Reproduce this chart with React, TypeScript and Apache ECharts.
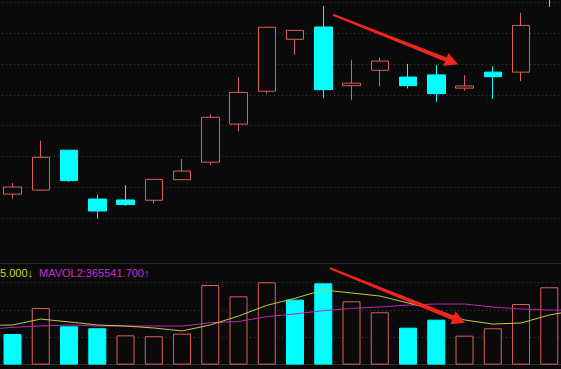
import { useEffect, useRef } from 'react';
import * as echarts from 'echarts';

// first and last categories are the neighbouring sessions just outside the visible window
const categories = ['prev', 'D1','D2','D3','D4','D5','D6','D7','D8','D9','D10','D11','D12','D13','D14','D15','D16','D17','D18','D19','D20', 'next'];

const openPrices  = [null, 10.77, 10.90, 12.20, 10.61, 10.58, 10.57, 11.24, 11.81, 13.05, 14.12, 15.81, 16.21, 14.30, 14.80, 14.58, 14.65, 14.22, 14.74, 14.74, 17.50, null];
const closePrices = [null, 11.00, 11.97, 11.21, 10.22, 10.43, 11.25, 11.52, 13.27, 14.08, 16.20, 16.10, 14.17, 14.38, 15.10, 14.30, 14.04, 14.29, 14.59, 16.26, 17.30, null];
const lowPrices   = [null, 10.62, 10.88, 11.17, 9.97, 10.39, 10.46, 11.24, 11.72, 12.82, 14.04, 15.31, 13.89, 13.83, 14.27, 14.21, 13.78, 14.14, 13.87, 14.45, 16.86, null];
const highPrices  = [null, 11.13, 12.51, 12.20, 10.75, 11.06, 11.25, 11.91, 13.37, 14.58, 16.20, 16.10, 16.89, 15.14, 15.22, 15.01, 14.98, 14.64, 14.93, 16.67, 17.60, null];

const volumes = [null, 203000, 375000, 254000, 241000, 194000, 188000, 205000, 528000, 453000, 546000, 431000, 539000, 420000, 347000, 245000, 298000, 192000, 241000, 402000, 513000, null];
const volumeUp = [false, false, true, false, false, true, true, true, true, true, true, false, false, true, true, false, false, true, true, true, true, false];

const mavol1 = [259000, 263000, 302000, 283000, 263000, 256000, 243000, 223000, 263000, 322000, 393000, 440000, 495000, 475000, 455000, 409000, 362000, 296000, 269000, 276000, 329000, 362000];
const mavol2 = [232000, 247000, 256000, 263000, 256000, 256000, 256000, 256000, 278000, 286000, 318000, 336000, 358000, 373000, 382000, 395000, 402000, 402000, 382000, 369000, 362000, 362000];

const mavol1Label = '5.000↓';
const mavol2Label = 'MAVOL2:365541.700↑';

const BG = '#0a0a0a';
const RED = '#dc5f5c';
const CYAN = '#00ffff';
const GRID_LINE = '#474747';

export default function App() {
  const ref = useRef<HTMLDivElement>(null);
  useEffect(() => {
    document.body.style.margin = '0';
    document.body.style.background = BG;
    const chart = echarts.init(ref.current!, null, { renderer: 'svg' });
    const candleData = categories.map((_, i) =>
      openPrices[i] == null ? '-' : [openPrices[i], closePrices[i], lowPrices[i], highPrices[i]]
    );
    const volData = volumes.map((v, i) =>
      v == null
        ? '-'
        : {
            value: v,
            itemStyle: volumeUp[i]
              ? { color: BG, borderColor: RED, borderWidth: 1 }
              : { color: CYAN, borderColor: CYAN, borderWidth: 1 },
          }
    );
    const split = { show: true, lineStyle: { color: GRID_LINE, type: [1, 3] as any, width: 1 } };
    const left = -29.85;
    const width = 621.5;
    chart.setOption({
      animation: false,
      backgroundColor: BG,
      grid: [
        { left, width, top: 2.7, height: 245.8, outerBoundsMode: 'none', containLabel: false },
        { left, width, top: 263.3, height: 101.3, outerBoundsMode: 'none', containLabel: false },
      ],
      xAxis: [
        { type: 'category', gridIndex: 0, data: categories, boundaryGap: true, axisLine: { show: false }, axisTick: { show: false }, axisLabel: { show: false }, splitLine: { show: false } },
        { type: 'category', gridIndex: 1, data: categories, boundaryGap: true, axisLine: { show: true, lineStyle: { color: '#303030' } }, axisTick: { show: false }, axisLabel: { show: false }, splitLine: { show: false } },
      ],
      yAxis: [
        { type: 'value', gridIndex: 0, min: 9, max: 17, interval: 1, axisLine: { show: false }, axisTick: { show: false }, axisLabel: { show: false }, splitLine: { ...split, showMinLine: false, showMaxLine: true } },
        { type: 'value', gridIndex: 1, min: 0, max: 672000, interval: 181000, axisLine: { show: false }, axisTick: { show: false }, axisLabel: { show: false }, splitLine: { ...split, showMinLine: false, showMaxLine: false } },
      ],
      series: [
        {
          type: 'candlestick',
          xAxisIndex: 0,
          yAxisIndex: 0,
          data: candleData,
          barWidth: 18,
          clip: false,
          itemStyle: { color: BG, color0: CYAN, borderColor: RED, borderColor0: CYAN, borderWidth: 1 },
        },
        {
          type: 'bar',
          xAxisIndex: 1,
          yAxisIndex: 1,
          data: volData,
          barWidth: 18,
        },
        {
          type: 'line',
          xAxisIndex: 1,
          yAxisIndex: 1,
          data: mavol2,
          symbol: 'none',
          lineStyle: { color: '#b828b8', width: 1 },
          z: 3,
        },
        {
          type: 'line',
          xAxisIndex: 1,
          yAxisIndex: 1,
          data: mavol1,
          symbol: 'none',
          lineStyle: { color: '#c8c83a', width: 1 },
          z: 4,
        },
      ],
      graphic: [
        { type: 'line', shape: { x1: 0, y1: 263.5, x2: 561, y2: 263.5 }, style: { stroke: '#2a2a2a', lineWidth: 1 }, z: 5 },
        { type: 'text', x: 0, y: 272.5, style: { text: mavol1Label, fill: '#d2d22e', font: '11px "Liberation Sans", Arial, sans-serif', verticalAlign: 'middle' }, z: 10 },
        { type: 'text', x: 39, y: 272.5, style: { text: mavol2Label, fill: '#cc2ccc', font: '11px "Liberation Sans", Arial, sans-serif', verticalAlign: 'middle' }, z: 10 },
        {
          type: 'polygon', z: 100,
          shape: { points: [[333.37, 13.77], [446.73, 57.47], [448.5, 53.0], [458, 64.3], [443.34, 66.02], [445.11, 61.55], [332.63, 15.63]] },
          style: { fill: '#f0261c' },
        },
        {
          type: 'polygon', z: 100,
          shape: { points: [[330.37, 267.37], [453.76, 315.8], [455.56, 311.35], [465, 322.7], [450.32, 324.33], [452.12, 319.88], [329.63, 269.23]] },
          style: { fill: '#f0261c' },
        },
      ],
    });
    return () => chart.dispose();
  }, []);
  return <div ref={ref} style={{ width: 561, height: 369 }} />;
}
